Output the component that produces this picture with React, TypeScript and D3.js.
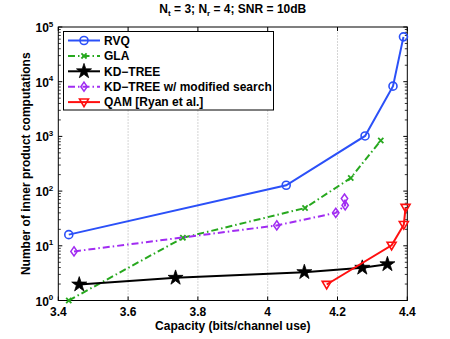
import React from 'react';
import * as d3 from 'd3';

// series
const rvqX = [3.43, 4.053, 4.279, 4.359, 4.389];
const rvqY = [16, 128, 1020, 8300, 66000];
const glaX = [3.43, 3.757, 4.107, 4.238, 4.324];
const glaY = [1, 14, 49, 174, 840];
const kdX = [3.46, 3.736, 4.105, 4.271, 4.343];
const kdY = [1.96, 2.6, 3.3, 3.97, 4.6];
const kdModX = [3.445, 4.026, 4.195, 4.222, 4.22];
const kdModY = [7.9, 23.6, 40, 55, 73];
const qamX = [4.169, 4.355, 4.39, 4.395];
const qamY = [1.96, 10.2, 24.3, 50];

const xTicks = [3.4, 3.6, 3.8, 4.0, 4.2, 4.4];
const xTickLabels = ['3.4', '3.6', '3.8', '4', '4.2', '4.4'];
const yDecades = [0, 1, 2, 3, 4, 5];

const seriesNames = ['RVQ', 'GLA', 'KD\u2212TREE', 'KD\u2212TREE w/ modified search', 'QAM [Ryan et al.]'];

const FONT = '"Liberation Sans", Arial, sans-serif';
const FS = 12;

type Series = {
  name: string;
  xs: number[];
  ys: number[];
  color: string;
  dash: string | null;
  marker: 'circle' | 'x' | 'star' | 'diamond' | 'tri';
};

const series: Series[] = [
  { name: seriesNames[0], xs: rvqX, ys: rvqY, color: '#2b50f8', dash: null, marker: 'circle' },
  { name: seriesNames[1], xs: glaX, ys: glaY, color: '#27a81e', dash: '7,3,1.5,3', marker: 'x' },
  { name: seriesNames[2], xs: kdX, ys: kdY, color: '#000000', dash: null, marker: 'star' },
  { name: seriesNames[3], xs: kdModX, ys: kdModY, color: '#a12cf2', dash: '7,3,1.5,3', marker: 'diamond' },
  { name: seriesNames[4], xs: qamX, ys: qamY, color: '#ff0f0f', dash: null, marker: 'tri' },
];

const Marker = ({ type, x, y, color }: { type: Series['marker']; x: number; y: number; color: string }) => {
  if (type === 'circle') {
    return <circle cx={x} cy={y} r={4} fill="none" stroke={color} strokeWidth={1.6} />;
  }
  if (type === 'x') {
    const s = 2.6;
    return (
      <path d={`M${x - s},${y - s}L${x + s},${y + s}M${x - s},${y + s}L${x + s},${y - s}`} stroke={color} strokeWidth={1.8} />
    );
  }
  if (type === 'star') {
    const p = d3.symbol().type(d3.symbolStar).size(70)();
    return <path d={p || ''} transform={`translate(${x},${y})`} fill={color} stroke={color} strokeWidth={0.8} />;
  }
  if (type === 'diamond') {
    const w = 3.2, h = 4.6;
    return (
      <path d={`M${x},${y - h}L${x + w},${y}L${x},${y + h}L${x - w},${y}Z`} fill="none" stroke={color} strokeWidth={1.5} />
    );
  }
  const s = 4.5;
  return (
    <path d={`M${x - s},${y - s * 0.7}L${x + s},${y - s * 0.7}L${x},${y + s}Z`} fill="none" stroke={color} strokeWidth={1.6} />
  );
};

export default function App() {
  const width = 450;
  const height = 339;
  const margin = { left: 58.3, right: 450 - 407.3, top: 27, bottom: 339 - 300.5 };

  const x = d3.scaleLinear().domain([3.4, 4.4]).range([margin.left, width - margin.right]);
  const y = d3.scaleLog().domain([1, 1e5]).range([height - margin.bottom, margin.top]);

  const line = d3.line<[number, number]>().x(d => x(d[0])).y(d => y(d[1]));

  const minorTicks: number[] = [];
  for (let e = 0; e < 5; e++) {
    for (let m = 2; m <= 9; m++) minorTicks.push(m * Math.pow(10, e));
  }

  const x0 = x.range()[0], x1 = x.range()[1];
  const y0 = y.range()[0], y1 = y.range()[1];

  const legend = { x: 63.5, y: 31.5, w: 210, h: 78.5, row: 15.4 };

  return (
    <svg width={width} height={height} style={{ position: 'absolute', left: 0, top: 0, background: '#fff' }} fontFamily={FONT}>
      <rect x={0} y={0} width={width} height={height} fill="#fff" />
      {/* vertical dotted grid */}
      {xTicks.slice(1, -1).map(t => (
        <line key={t} x1={x(t)} x2={x(t)} y1={y0} y2={y1} stroke="#888" strokeWidth={0.7} strokeDasharray="1,2" />
      ))}

      {/* axis box */}
      <rect x={x0} y={y1} width={x1 - x0} height={y0 - y1} fill="none" stroke="#000" strokeWidth={1} />

      {/* x ticks */}
      {xTicks.map((t, i) => (
        <g key={t}>
          <line x1={x(t)} x2={x(t)} y1={y0} y2={y0 - 4} stroke="#000" />
          <line x1={x(t)} x2={x(t)} y1={y1} y2={y1 + 4} stroke="#000" />
          <text x={x(t)} y={y0 + 15} textAnchor="middle" fontSize={FS} fontWeight="bold">{xTickLabels[i]}</text>
        </g>
      ))}

      {/* y ticks */}
      {yDecades.map(e => (
        <g key={e}>
          <line x1={x0} x2={x0 + 4} y1={y(Math.pow(10, e))} y2={y(Math.pow(10, e))} stroke="#000" />
          <line x1={x1} x2={x1 - 4} y1={y(Math.pow(10, e))} y2={y(Math.pow(10, e))} stroke="#000" />
          <text x={x0 - 5} y={y(Math.pow(10, e)) + 5} textAnchor="end" fontSize={FS} fontWeight="bold">
            10<tspan dy={-5.5} fontSize={8}>{e}</tspan>
          </text>
        </g>
      ))}
      {minorTicks.map(t => (
        <g key={t}>
          <line x1={x0} x2={x0 + 2.5} y1={y(t)} y2={y(t)} stroke="#000" strokeWidth={0.8} />
          <line x1={x1} x2={x1 - 2.5} y1={y(t)} y2={y(t)} stroke="#000" strokeWidth={0.8} />
        </g>
      ))}

      {/* series */}
      {series.map(s => {
        const pts = s.xs.map((v, i) => [v, s.ys[i]] as [number, number]);
        return (
          <g key={s.name}>
            <path d={line(pts) || ''} fill="none" stroke={s.color} strokeWidth={2} strokeDasharray={s.dash || undefined} />
            {pts.map((p, i) => (
              <Marker key={i} type={s.marker} x={x(p[0])} y={y(p[1])} color={s.color} />
            ))}
          </g>
        );
      })}

      {/* legend */}
      <rect x={legend.x} y={legend.y} width={legend.w} height={legend.h} fill="#fff" stroke="#000" strokeWidth={1} />
      {series.map((s, i) => {
        const cy = legend.y + 9 + i * legend.row;
        return (
          <g key={s.name}>
            <line x1={68} x2={100} y1={cy} y2={cy} stroke={s.color} strokeWidth={2} strokeDasharray={s.dash || undefined} />
            <Marker type={s.marker} x={84} y={cy} color={s.color} />
            <text x={104} y={cy + 4.3} fontSize={FS} fontWeight="bold">{s.name}</text>
          </g>
        );
      })}

      {/* title and axis labels */}
      <text x={(x0 + x1) / 2} y={13} textAnchor="middle" fontSize={FS} fontWeight="bold">
        N<tspan dy={3} fontSize={8}>t</tspan><tspan dy={-3}> = 3; N</tspan><tspan dy={3} fontSize={8}>r</tspan><tspan dy={-3}> = 4; SNR = 10dB</tspan>
      </text>
      <text x={(x0 + x1) / 2} y={329.5} textAnchor="middle" fontSize={FS} fontWeight="bold">Capacity (bits/channel use)</text>
      <text transform={`translate(29.5,${(y0 + y1) / 2}) rotate(-90)`} textAnchor="middle" fontSize={FS} fontWeight="bold">
        Number of inner product computations
      </text>
    </svg>
  );
}
